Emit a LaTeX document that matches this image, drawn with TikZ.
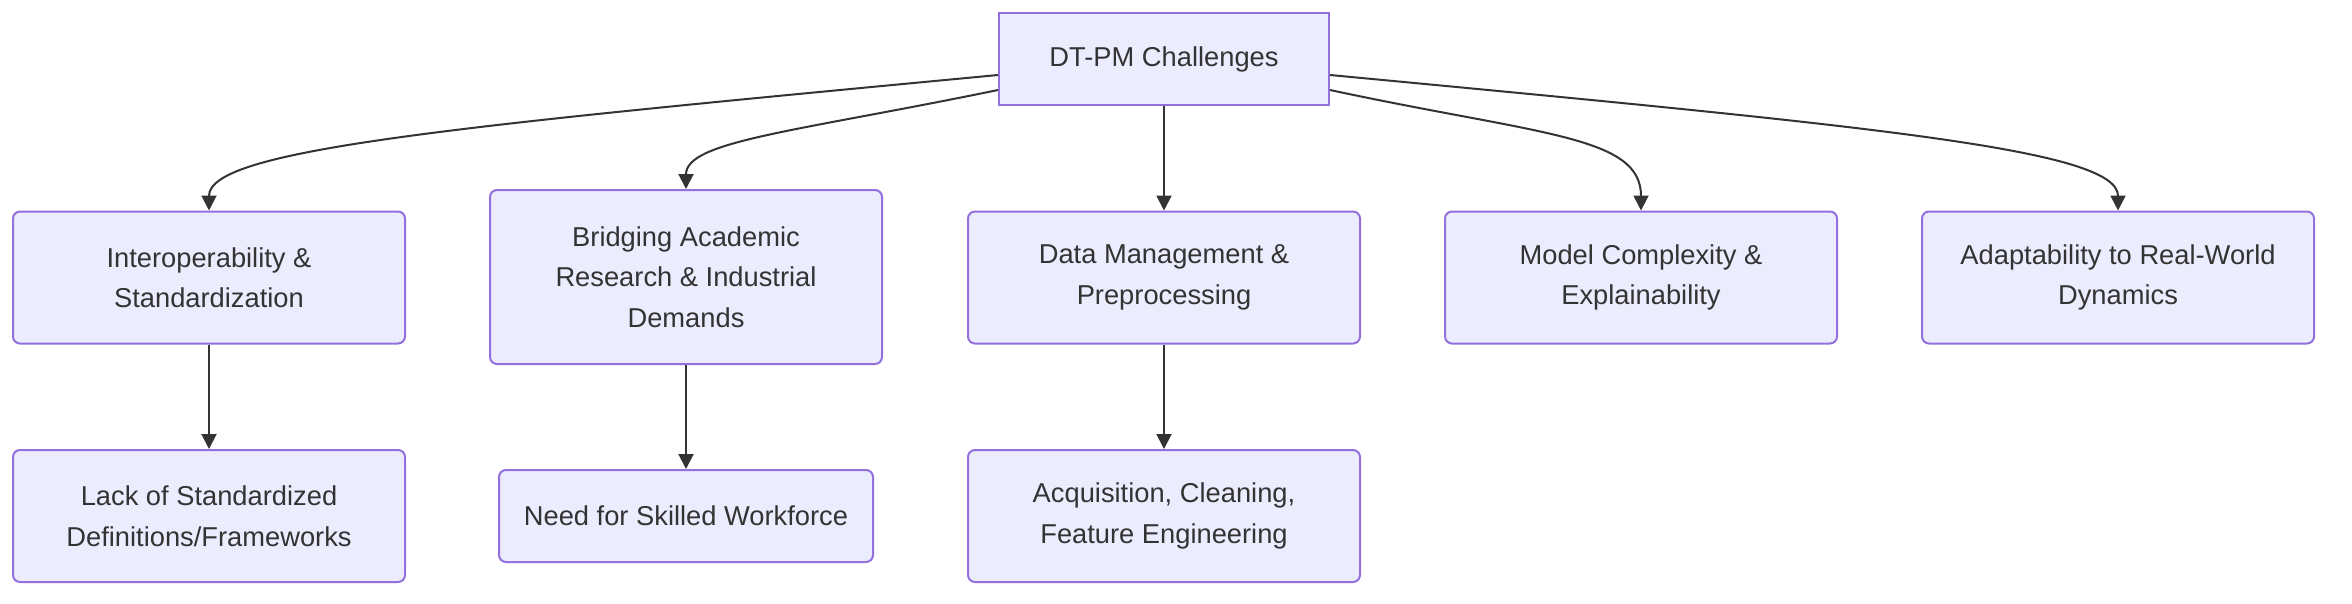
\documentclass[tikz,border=0pt]{standalone}
\usepackage{fontspec}
\setmainfont{Liberation Sans}
\usetikzlibrary{shapes,arrows.meta}
\usetikzlibrary{positioning}

\definecolor{boxfill}{HTML}{ECECFF}
\definecolor{boxline}{HTML}{9370DB}
\definecolor{inkgray}{HTML}{333333}

\begin{document}
\begin{tikzpicture}[x=1pt,y=-1pt,
    every node/.style={font=\fontsize{27.3}{40.5}\selectfont,text=inkgray},
    box/.style={draw=boxline,fill=boxfill,line width=2pt,rounded corners=7pt,
        align=center,inner sep=0pt,minimum width=392pt,minimum height=132pt},
    link/.style={draw=inkgray,line width=2pt,-{Triangle[width=15pt,length=15pt]}}
    ]
    \useasboundingbox (0,0) rectangle (2352,603);
    \node[box,rounded corners=0pt,minimum width=330pt,minimum height=92pt] (root) at (1164,59) {DT-PM Challenges};
    % second row
    \node[box] (interop) at (209,277.5) {Interoperability \&\\Standardization};
    \node[box,minimum height=174pt] (bridge) at (686,277) {Bridging Academic\\Research \& Industrial\\Demands};
    \node[box] (datamgmt) at (1164,277.5) {Data Management \&\\Preprocessing};
    \node[box] (model) at (1641,277.5) {Model Complexity \&\\Explainability};
    \node[box] (adapt) at (2118,277.5) {Adaptability to Real-World\\Dynamics};
    % third row
    \node[box] (lack) at (209,516) {Lack of Standardized\\Definitions/Frameworks};
    \node[box,minimum width=374pt,minimum height=92pt] (skills) at (686,516) {Need for Skilled Workforce};
    \node[box] (acquire) at (1164,516) {Acquisition, Cleaning,\\Feature Engineering};

    \draw[link] ([yshift=-16pt]root.west) .. controls +(-549,52) and +(0,-61) .. (interop.north);
    \draw[link] ([yshift=-31pt]root.west) .. controls +(-204,42) and +(0,-48) .. (bridge.north);
    \draw[link] (root.south) -- (datamgmt.north);
    \draw[link] ([yshift=-31pt]root.east) .. controls +(210,45) and +(0,-75) .. (model.north);
    \draw[link] ([yshift=-16pt]root.east) .. controls +(549,52) and +(0,-61) .. (adapt.north);
    \draw[link] (interop) -- (lack);
    \draw[link] (bridge) -- (skills);
    \draw[link] (datamgmt) -- (acquire);
\end{tikzpicture}
\end{document}
